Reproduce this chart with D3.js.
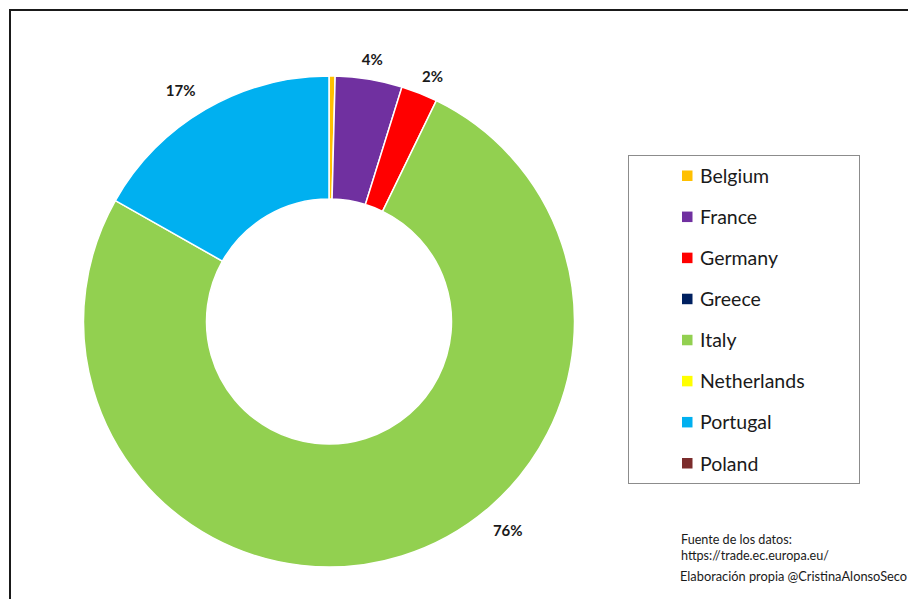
<!DOCTYPE html>
<html>
<head>
<meta charset="utf-8">
<script src="https://cdn.jsdelivr.net/npm/d3@7"></script>
<style>
  html, body { margin: 0; padding: 0; background: #fff; }
  svg { display: block; }
</style>
</head>
<body>
<svg id="chart" width="908" height="599"></svg>
<script>
// Share of imports by country of origin (%)
const countries = ["Belgium", "France", "Germany", "Greece", "Italy", "Netherlands", "Portugal", "Poland"];
const shares    = [0.4, 4.4, 2.4, 0, 76.0, 0, 16.8, 0];
const colors    = ["#FFC000", "#7030A0", "#FF0000", "#002060", "#92D050", "#FFFF00", "#00B0F0", "#7B2C2C"];
const sourceLines = ["Fuente de los datos:", "https://trade.ec.europa.eu/"];
const creditLine  = "Elaboración propia @CristinaAlonsoSeco";

const font = "Lato, 'Open Sans', sans-serif";
const svg = d3.select("#chart");

// outer frame
svg.append("rect")
  .attr("x", 10).attr("y", 10)
  .attr("width", 1200).attr("height", 1200)
  .attr("fill", "none")
  .attr("stroke", "#1a1a1a")
  .attr("stroke-width", 2);

const cx = 329, cy = 321.5;
const outerR = 245.5, innerR = 122.5;

const color = d3.scaleOrdinal().domain(countries).range(colors);

const pie = d3.pie().sort(null).value(d => d.value);
const data = countries.map((c, i) => ({ name: c, value: shares[i] }));
const arcs = pie(data);

const arc = d3.arc().innerRadius(innerR).outerRadius(outerR);

const g = svg.append("g").attr("transform", `translate(${cx},${cy})`);

g.selectAll("path.slice")
  .data(arcs.filter(a => a.data.value > 0))
  .join("path")
  .attr("class", "slice")
  .attr("d", arc)
  .attr("fill", d => color(d.data.name))
  .attr("stroke", "#fff")
  .attr("stroke-width", 1.5);

// percentage labels outside the ring; large slices get their label partway along the arc
const labelFraction = { Italy: 0.415, Portugal: 0.46, Germany: 0.65 };
g.selectAll("text.pct")
  .data(arcs.filter(a => Math.round(a.data.value) >= 1))
  .join("text")
  .attr("class", "pct")
  .attr("transform", d => {
    const f = labelFraction[d.data.name] ?? 0.5;
    const ang = d.startAngle + (d.endAngle - d.startAngle) * f;
    const r = d.data.value > 10 ? 275 : 266;
    return `translate(${r * Math.sin(ang)},${-r * Math.cos(ang)})`;
  })
  .attr("text-anchor", "middle")
  .attr("dominant-baseline", "central")
  .attr("font-family", font)
  .attr("font-weight", "bold")
  .attr("font-size", 15)
  .attr("fill", "#1a1a1a")
  .text(d => Math.round(d.data.value) + "%");

// legend
const legend = svg.append("g");
legend.append("rect")
  .attr("x", 628.5).attr("y", 155.5)
  .attr("width", 231).attr("height", 328)
  .attr("fill", "#fff")
  .attr("stroke", "#8c8c8c")
  .attr("stroke-width", 1);

const rowY = d3.scalePoint().domain(countries).range([175.5, 463]);
const items = legend.selectAll("g.item")
  .data(countries)
  .join("g")
  .attr("class", "item")
  .attr("transform", d => `translate(0,${rowY(d)})`);

items.append("rect")
  .attr("x", 682).attr("y", -5)
  .attr("width", 10.5).attr("height", 10.5)
  .attr("fill", d => color(d));

items.append("text")
  .attr("x", 700)
  .attr("y", 0)
  .attr("dominant-baseline", "central")
  .attr("font-family", font)
  .attr("font-size", 19.5)
  .attr("fill", "#1a1a1a")
  .text(d => d);

// source note
svg.selectAll("text.src")
  .data(sourceLines)
  .join("text")
  .attr("class", "src")
  .attr("x", 681)
  .attr("y", (d, i) => 544 + i * 16)
  .attr("font-family", font)
  .attr("font-size", 12.6)
  .attr("fill", "#1a1a1a")
  .text(d => d);

svg.append("text")
  .attr("x", 680)
  .attr("y", 581)
  .attr("font-family", font)
  .attr("font-size", 12.8)
  .attr("fill", "#1a1a1a")
  .text(creditLine);
</script>
</body>
</html>
